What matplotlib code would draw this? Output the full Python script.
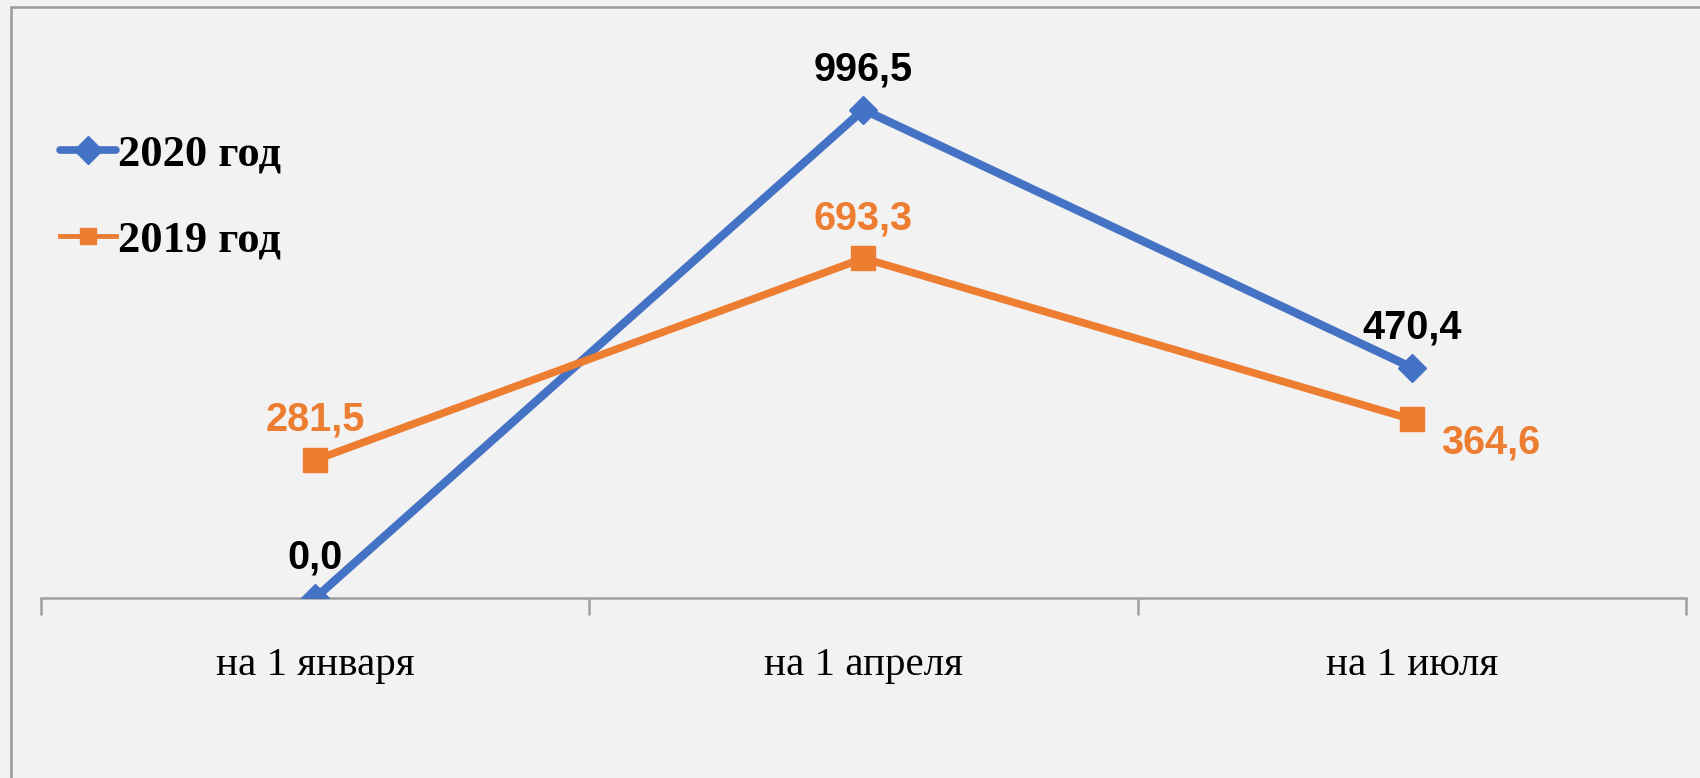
import matplotlib.pyplot as plt
from matplotlib.lines import Line2D
from matplotlib.patches import Rectangle

categories = ['на 1 января', 'на 1 апреля', 'на 1 июля']
values_2020 = [0.0, 996.5, 470.4]
values_2019 = [281.5, 693.3, 364.6]
labels_2020 = ['0,0', '996,5', '470,4']
labels_2019 = ['281,5', '693,3', '364,6']

blue = '#4472C4'
orange = '#ED7D31'
grey = '#A0A0A0'

fig = plt.figure(figsize=(17, 7.78), dpi=100)
fig.patch.set_facecolor('#F2F2F2')
ax = fig.add_axes([41 / 1700, 1 - 598 / 778, 1645 / 1700, 588 / 778])
ax.set_facecolor('#F2F2F2')

# outer chart border (cut by the right and bottom edges)
fig.patches.append(Rectangle((11 / 1700, -0.05), 1.2, 1 - 7 / 778 + 0.05,
                             transform=fig.transFigure, fill=False,
                             edgecolor='#9A9A9A', linewidth=1.8, clip_on=False))

x = list(range(len(categories)))
ax.plot(x, values_2020, color=blue, linewidth=6, marker='D', markersize=14,
        solid_capstyle='round', zorder=3)
ax.plot(x, values_2019, color=orange, linewidth=5.5, marker='s', markersize=17,
        zorder=3)

ax.set_xlim(-0.5, 2.5)
ax.set_ylim(0, 1200)
for s in ['top', 'right', 'left']:
    ax.spines[s].set_visible(False)
ax.spines['bottom'].set_color(grey)
ax.spines['bottom'].set_linewidth(1.8)
ax.set_yticks([])

ax.set_xticks([-0.5, 0.5, 1.5, 2.5])
ax.set_xticklabels([])
ax.tick_params(axis='x', which='major', length=12, width=1.8, color=grey, direction='out')
ax.set_xticks(x, minor=True)
ax.set_xticklabels(categories, minor=True, family='Liberation Serif', fontsize=29.5)
ax.tick_params(axis='x', which='minor', length=0, pad=35)

lab_font = dict(family='Liberation Sans', fontweight='bold', fontsize=28.5, ha='center', va='center')
for xi, v, t in zip(x, values_2020, labels_2020):
    ax.annotate(t, (xi, v), xytext=(0, 29), textcoords='offset points', color='black', **lab_font)
for xi, v, t in zip(x, values_2019, labels_2019):
    off = (57, -17) if xi == 2 else (0, 29)
    ax.annotate(t, (xi, v), xytext=off, textcoords='offset points', color=orange, **lab_font)

handles = [Line2D([], [], color=blue, linewidth=5.5, marker='D', markersize=14, solid_capstyle='round'),
           Line2D([], [], color=orange, linewidth=3.5, marker='s', markersize=12)]
fig.legend(handles, ['2020 год', '2019 год'], loc='upper left',
           bbox_to_anchor=(60 / 1700, 1 - 134 / 778), frameon=False,
           prop=dict(family='Liberation Serif', weight='bold', size=32),
           handlelength=1.25, handletextpad=0.05, labelspacing=1.05, borderpad=0,
           borderaxespad=0)

fig.savefig('out.png', dpi=100, facecolor=fig.get_facecolor())
